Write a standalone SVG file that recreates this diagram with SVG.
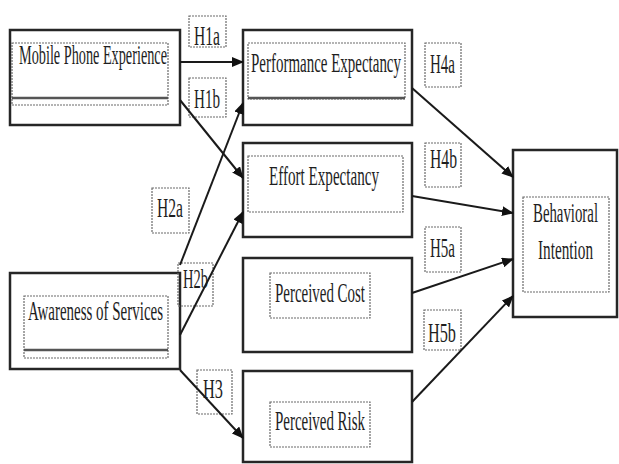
<svg xmlns="http://www.w3.org/2000/svg" width="619" height="464" viewBox="0 0 619 464">
<style>
.outer{fill:#fff;stroke:#262626;stroke-width:2.5}
.inner{fill:none;stroke:#6a6a6a;stroke-width:1.2;stroke-dasharray:2 1}
.dbl{stroke:#555;stroke-width:2.5}
.lbl{fill:none;stroke:#6a6a6a;stroke-width:1.2;stroke-dasharray:2 1}
.t{font-family:"Liberation Serif","Times New Roman",serif;font-size:15px;fill:#1e1e1e}
.h{font-family:"Liberation Serif","Times New Roman",serif;font-size:15.5px;fill:#1e1e1e}
.c{fill:none;stroke:#1a1a1a;stroke-width:2;marker-end:url(#ah)}
</style>
<defs>
<marker id="ah" markerUnits="userSpaceOnUse" markerWidth="12" markerHeight="10" refX="11" refY="5" orient="auto">
<path d="M0,0 L12,5 L0,10 Z" fill="#111"/>
</marker>
</defs>
<rect width="619" height="464" fill="#fff"/>

<g id="mobile-phone-experience">
<rect class="outer" x="10" y="30" width="170" height="95"/>
<rect class="inner" x="12" y="43" width="156" height="62"/>
<line class="dbl" x1="12" y1="98" x2="168" y2="98"/>
<text class="t" transform="translate(19,64) scale(1,1.8)" textLength="148" lengthAdjust="spacingAndGlyphs">Mobile Phone Experience</text>
</g>

<g id="awareness-of-services">
<rect class="outer" x="10" y="273" width="170" height="96"/>
<rect class="inner" x="24" y="296" width="144" height="62"/>
<line class="dbl" x1="24" y1="350" x2="168" y2="350"/>
<text class="t" transform="translate(28,320) scale(1,1.8)" textLength="135" lengthAdjust="spacingAndGlyphs">Awareness of Services</text>
</g>

<g id="performance-expectancy">
<rect class="outer" x="243" y="30" width="169" height="95"/>
<rect class="inner" x="248" y="43" width="157" height="56"/>
<line class="dbl" x1="248" y1="98" x2="405" y2="98"/>
<text class="t" transform="translate(251,72) scale(1,1.8)" textLength="150" lengthAdjust="spacingAndGlyphs">Performance Expectancy</text>
</g>

<g id="effort-expectancy">
<rect class="outer" x="243" y="143" width="169" height="94"/>
<rect class="inner" x="248" y="156" width="155" height="56"/>
<text class="t" transform="translate(269,185) scale(1,1.8)" textLength="110" lengthAdjust="spacingAndGlyphs">Effort Expectancy</text>
</g>

<g id="perceived-cost">
<rect class="outer" x="243" y="258" width="169" height="94"/>
<rect class="inner" x="270" y="273" width="100" height="45"/>
<text class="t" transform="translate(275,302) scale(1,1.8)" textLength="90" lengthAdjust="spacingAndGlyphs">Perceived Cost</text>
</g>

<g id="perceived-risk">
<rect class="outer" x="243" y="371" width="169" height="91"/>
<rect class="inner" x="270" y="402" width="100" height="45"/>
<text class="t" transform="translate(275,430) scale(1,1.8)" textLength="90" lengthAdjust="spacingAndGlyphs">Perceived Risk</text>
</g>

<g id="behavioral-intention">
<rect class="outer" x="513" y="150" width="104" height="167"/>
<rect class="inner" x="523" y="197" width="86" height="95"/>
<text class="t" transform="translate(533,222) scale(1,1.8)" textLength="65" lengthAdjust="spacingAndGlyphs">Behavioral</text>
<text class="t" transform="translate(538,259) scale(1,1.8)" textLength="55" lengthAdjust="spacingAndGlyphs">Intention</text>
</g>

<g id="labels">
<rect class="lbl" x="189" y="16" width="37" height="31"/>
<text class="h" transform="translate(194,45) scale(1,1.7)" textLength="26" lengthAdjust="spacingAndGlyphs">H1a</text>
<rect class="lbl" x="189" y="78" width="37" height="39"/>
<text class="h" transform="translate(194,108) scale(1,1.7)" textLength="26" lengthAdjust="spacingAndGlyphs">H1b</text>
<rect class="lbl" x="152" y="188" width="37" height="45"/>
<text class="h" transform="translate(157,217) scale(1,1.7)" textLength="26" lengthAdjust="spacingAndGlyphs">H2a</text>
<rect class="lbl" x="178" y="263" width="35" height="43"/>
<text class="h" transform="translate(183,288) scale(1,1.7)" textLength="25" lengthAdjust="spacingAndGlyphs">H2b</text>
<rect class="lbl" x="197" y="370" width="35" height="44"/>
<text class="h" transform="translate(203,398) scale(1,1.7)" textLength="20" lengthAdjust="spacingAndGlyphs">H3</text>
<rect class="lbl" x="425" y="43" width="36" height="44"/>
<text class="h" transform="translate(430,73) scale(1,1.7)" textLength="25" lengthAdjust="spacingAndGlyphs">H4a</text>
<rect class="lbl" x="425" y="143" width="36" height="44"/>
<text class="h" transform="translate(430,168) scale(1,1.7)" textLength="27" lengthAdjust="spacingAndGlyphs">H4b</text>
<rect class="lbl" x="425" y="227" width="36" height="45"/>
<text class="h" transform="translate(430,257) scale(1,1.7)" textLength="25" lengthAdjust="spacingAndGlyphs">H5a</text>
<rect class="lbl" x="424" y="310" width="37" height="40"/>
<text class="h" transform="translate(428,342) scale(1,1.7)" textLength="28" lengthAdjust="spacingAndGlyphs">H5b</text>
</g>

<g id="connectors">
<line class="c" x1="180" y1="62" x2="243" y2="62"/>
<line class="c" x1="180" y1="100" x2="243" y2="178"/>
<line class="c" x1="180" y1="265" x2="243" y2="103"/>
<line class="c" x1="180" y1="335" x2="243" y2="212"/>
<line class="c" x1="180" y1="370" x2="243" y2="438"/>
<line class="c" x1="412" y1="88" x2="513" y2="177"/>
<line class="c" x1="412" y1="196" x2="513" y2="213"/>
<line class="c" x1="412" y1="293" x2="513" y2="259"/>
<line class="c" x1="412" y1="402" x2="513" y2="296"/>
</g>
</svg>
